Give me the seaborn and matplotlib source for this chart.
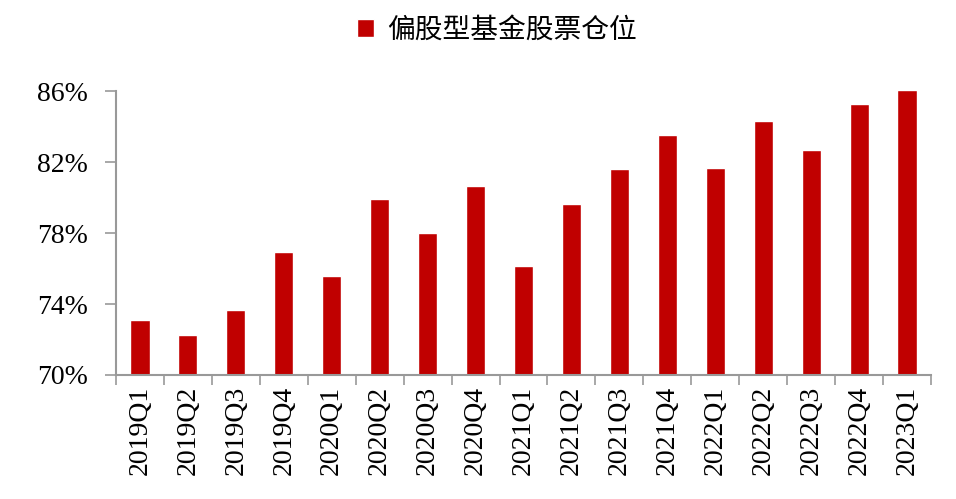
import matplotlib
matplotlib.use("Agg")
import matplotlib.pyplot as plt
from matplotlib.ticker import FixedLocator, FuncFormatter
import seaborn as sns
import pandas as pd

quarters = ["2019Q1", "2019Q2", "2019Q3", "2019Q4",
            "2020Q1", "2020Q2", "2020Q3", "2020Q4",
            "2021Q1", "2021Q2", "2021Q3", "2021Q4",
            "2022Q1", "2022Q2", "2022Q3", "2022Q4",
            "2023Q1"]
stock_position = [73.10, 72.27, 73.66, 76.93,
                  75.58, 79.92, 78.00, 80.65,
                  76.14, 79.63, 81.61, 83.50,
                  81.65, 84.31, 82.68, 85.27,
                  86.06]
series_name = "偏股型基金股票仓位"
y_ticks = [70, 74, 78, 82, 86]

df = pd.DataFrame({"quarter": quarters, "value": stock_position})

sns.set_style("white")
plt.rcParams["font.family"] = ["Liberation Serif", "Noto Sans CJK SC", "DejaVu Sans"]
plt.rcParams["text.color"] = "black"
plt.rcParams["xtick.color"] = "black"
plt.rcParams["ytick.color"] = "black"

fig = plt.figure(figsize=(9.56, 4.99), dpi=100)
ax = fig.add_axes([0.1213, 0.2485, 0.9739 - 0.1213, 0.8176 - 0.2485])

sns.barplot(data=df, x="quarter", y="value", color="#C00000", saturation=1,
            width=0.4, label=series_name, ax=ax)

ax.set_ylim(70, 86)
ax.set_xlim(-0.5, len(quarters) - 0.5)
ax.set_yticks(y_ticks)
ax.yaxis.set_major_formatter(FuncFormatter(lambda v, p: f"{v:.0f}%"))
ax.set_xlabel("")
ax.set_ylabel("")

# tick marks between the categories
ax.xaxis.set_minor_locator(FixedLocator([i - 0.5 for i in range(len(quarters) + 1)]))
ax.tick_params(axis="x", which="both", bottom=True)
ax.tick_params(axis="y", which="both", left=True)
ax.tick_params(axis="x", which="major", length=0, labelsize=20, labelcolor="black",
               rotation=90, pad=8)
ax.tick_params(axis="x", which="minor", length=7, width=1.2, color="#999999", direction="out")
ax.tick_params(axis="y", which="major", length=8, width=1.2, color="#999999",
               direction="out", labelsize=20, labelcolor="black", pad=12)

for side in ["top", "right"]:
    ax.spines[side].set_visible(False)
for side in ["left", "bottom"]:
    ax.spines[side].set_color("#999999")
    ax.spines[side].set_linewidth(1.5)

leg = ax.legend(loc="center", bbox_to_anchor=(0.52, 0.94), bbox_transform=fig.transFigure,
                frameon=False, handlelength=0.6, handleheight=0.6, handletextpad=0.5,
                prop={"family": ["Noto Sans CJK SC"], "size": 20})

fig.savefig("out.png", dpi=100)
